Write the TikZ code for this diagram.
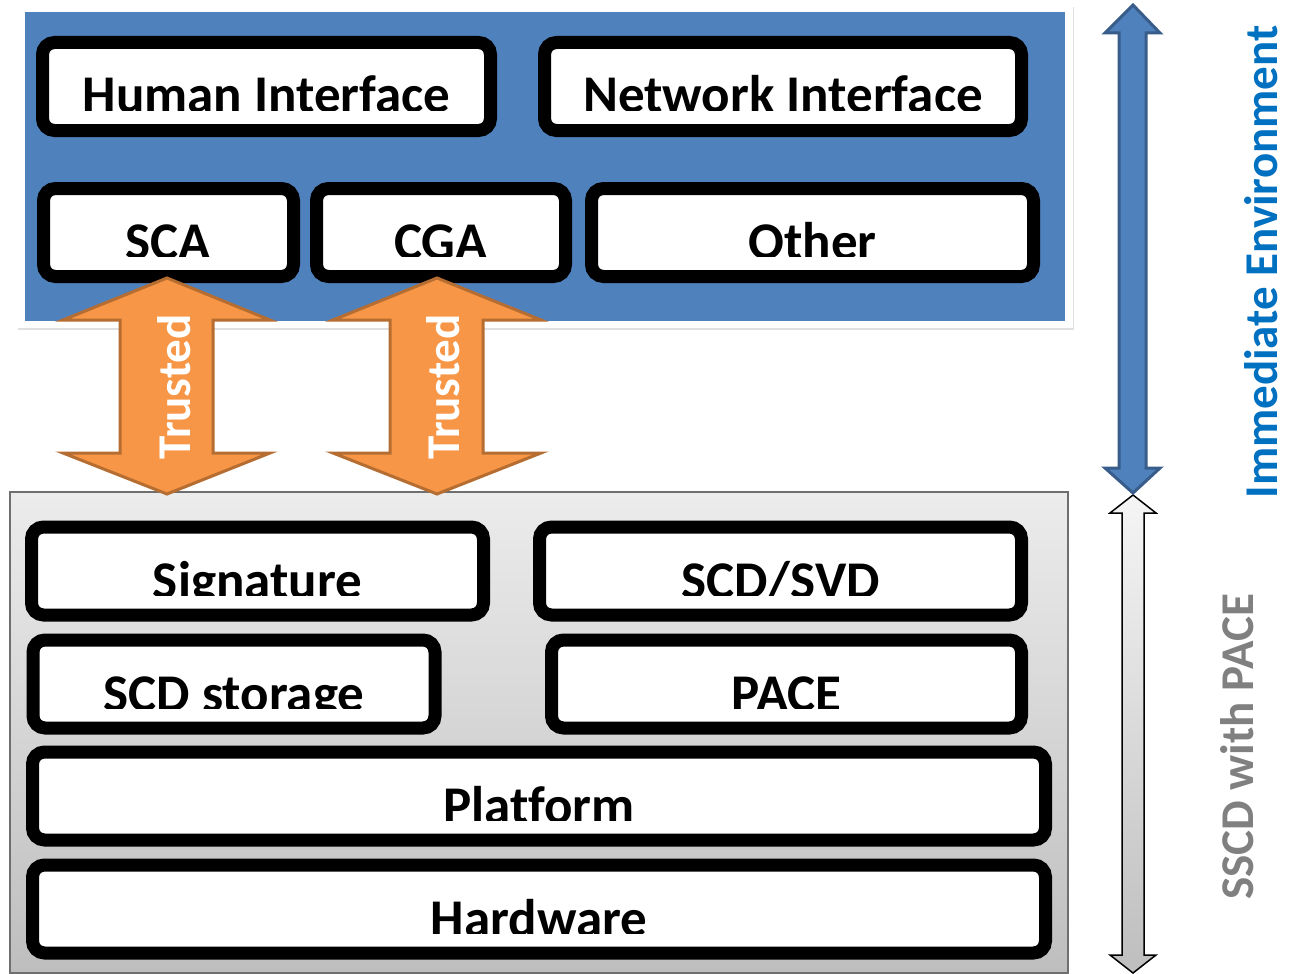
\documentclass[tikz,border=0pt]{standalone}
\usepackage{fontspec}
\setmainfont{Carlito}[Ligatures={NoCommon}]
\definecolor{bluebg}{HTML}{4F81BD}
\definecolor{blueline}{HTML}{385D8A}
\definecolor{orfill}{HTML}{F79646}
\definecolor{orline}{HTML}{B66D31}
\definecolor{ietext}{HTML}{0070C0}
\definecolor{sstext}{HTML}{808080}
\definecolor{paneltop}{RGB}{236,236,236}
\definecolor{panelbot}{RGB}{190,190,190}
\definecolor{panelline}{HTML}{6F6F6F}
\definecolor{arrtop}{RGB}{245,245,245}
\definecolor{arrbot}{RGB}{190,190,190}
\tikzset{
  layerbox/.style={draw=black, fill=white, line width=13pt, rounded corners=12pt,
    inner sep=0pt, minimum height=88pt},
  lbl/.style={font=\fontsize{53}{60}\selectfont\bfseries, inner sep=0pt, text=black, anchor=base},
  vlbl/.style={font=\fontsize{47}{54}\selectfont\bfseries, inner sep=0pt, rotate=90, anchor=base},
  orarrow/.style={fill=orfill, draw=orline, line width=3pt, line join=miter},
  bluearrow/.style={fill=bluebg, draw=blueline, line width=3pt, line join=miter},
  grayarrow/.style={top color=arrtop, bottom color=arrbot, draw=black, line width=1.5pt, line join=miter},
}
\newcommand{\cliplabel}[4]{%
  \begin{scope}
    \clip (0,0) rectangle (1294,#3-27);
    \node[lbl] (#1) at (#2,#3-24) {#4};
  \end{scope}}
\begin{document}
\begin{tikzpicture}[x=1pt,y=-1pt]
\useasboundingbox (0,0) rectangle (1294,974);
\fill[white] (0,0) rectangle (1294,974);

% environment panel
\fill[black!12] (18,7) rectangle (1074,330);
\node[fill=bluebg, draw=white, line width=7.5pt, inner sep=0pt,
      minimum width=1048pt, minimum height=316pt] (env) at (545,166.5) {};

% SSCD panel
\node[top color=paneltop, bottom color=panelbot, draw=panelline, line width=1.5pt,
      inner sep=0pt, minimum width=1058pt, minimum height=481pt] (sscd) at (539,732.5) {};

% boxes
\node[layerbox, minimum width=448pt] (hi) at (266.5,86.5) {};
\node[layerbox, minimum width=477pt] (ni) at (783,86.5) {};
\node[layerbox, minimum width=250pt] (sca) at (168.5,232.5) {};
\node[layerbox, minimum width=249pt] (cga) at (441,232.5) {};
\node[layerbox, minimum width=442pt] (other) at (812.5,232.5) {};
\node[layerbox, minimum width=452pt] (sig) at (257.5,571) {};
\node[layerbox, minimum width=482pt] (scdsvd) at (780.5,571) {};
\node[layerbox, minimum width=402pt] (store) at (234,684) {};
\node[layerbox, minimum width=470pt] (pace) at (786.5,684) {};
\node[layerbox, minimum width=1013pt] (plat) at (539,796) {};
\node[layerbox, minimum width=1013pt] (hw) at (539,909) {};

% labels (bottom part clipped as in the original)
\cliplabel{hi-t}{266.5}{137}{Human Interface}
\cliplabel{ni-t}{783}{137}{Network Interface}
\cliplabel{sca-t}{168.5}{283}{SCA}
\cliplabel{cga-t}{441}{283}{CGA}
\cliplabel{other-t}{812.5}{283}{Other}
\cliplabel{sig-t}{257.5}{622}{Signature}
\cliplabel{scdsvd-t}{780.5}{622}{SCD/SVD}
\cliplabel{store-t}{234}{735}{SCD storage}
\cliplabel{pace-t}{786.5}{735}{PACE}
\cliplabel{plat-t}{539}{847}{Platform}
\cliplabel{hw-t}{539}{960}{Hardware}

% trusted arrows
\draw[orarrow] (167,278) -- (270,320) -- (213,320) -- (213,453) -- (270,453) -- (167,494)
  -- (63,453) -- (120,453) -- (120,320) -- (63,320) -- cycle;
\draw[orarrow] (437,278) -- (541,320) -- (483,320) -- (483,453) -- (541,453) -- (437,494)
  -- (333,453) -- (390,453) -- (390,320) -- (333,320) -- cycle;
\node[vlbl, text=white] (tr1) at (190,387) {Trusted};
\node[vlbl, text=white] (tr2) at (459,387) {Trusted};

% side arrows
\draw[grayarrow] (1133,495) -- (1156,513) -- (1144,513) -- (1144,955) -- (1156,955) -- (1133,973)
  -- (1110,955) -- (1122,955) -- (1122,513) -- (1110,513) -- cycle;
\draw[bluearrow] (1133,5) -- (1160,33) -- (1146,33) -- (1146,468) -- (1160,468) -- (1133,493)
  -- (1105,468) -- (1119,468) -- (1119,33) -- (1105,33) -- cycle;

% side labels
\node[vlbl, text=ietext] (ie) at (1277,262) {Immediate Environment};
\node[vlbl, text=sstext] (ss) at (1253,747) {SSCD with PACE};
\end{tikzpicture}
\end{document}
